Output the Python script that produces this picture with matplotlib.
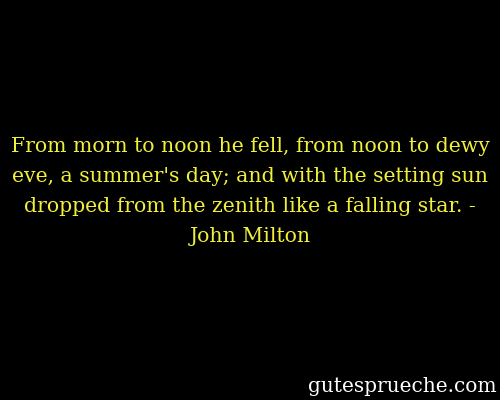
import matplotlib.pyplot as plt

quote_lines = [
    "From morn to noon he fell, from noon to dewy",
    "eve, a summer's day; and with the setting sun",
    "dropped from the zenith like a falling star. -",
    "John Milton",
]
line_y = [152, 182, 212, 242]
site = "gutesprueche.com"

fig = plt.figure(figsize=(5, 4), dpi=100, facecolor="black")
ax = fig.add_axes([0, 0, 1, 1])
ax.set_facecolor("black")
ax.set_xlim(0, 500)
ax.set_ylim(400, 0)
ax.axis("off")

for txt, y in zip(quote_lines, line_y):
    ax.text(250, y, txt, color="#f0f03c", fontsize=14.7, family="DejaVu Serif",
            ha="center", va="baseline")

ax.text(497, 392, site, color="white", fontsize=14.5, family="DejaVu Serif",
        ha="right", va="baseline")

fig.savefig("out.png", dpi=100, facecolor="black")
